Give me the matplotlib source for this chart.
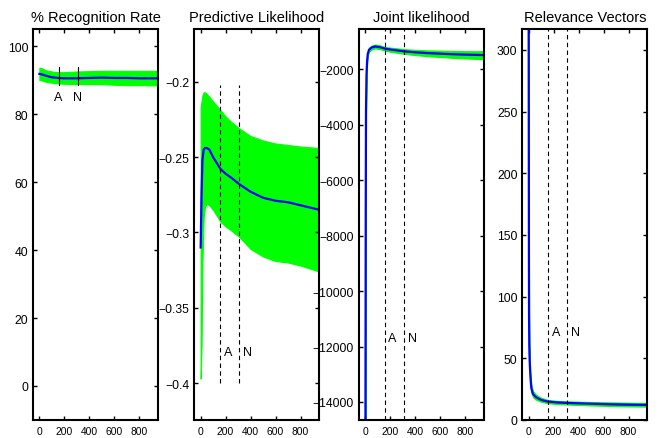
import numpy as np
import matplotlib
matplotlib.use("Agg")
import matplotlib.pyplot as plt

plt.rcParams["font.family"] = ["Liberation Sans", "DejaVu Sans"]

# marker positions (iterations)
a_pos = 155
n_pos = 310

# % Recognition Rate
x1 = [1, 25, 50, 100, 150, 200, 300, 400, 500, 600, 700, 800, 950]
mean1 = [91.8, 91.6, 91.3, 90.8, 90.6, 90.5, 90.5, 90.6, 90.7, 90.6, 90.6, 90.5, 90.5]
up1 = [93.6, 93.4, 92.9, 92.5, 92.3, 92.3, 92.5, 92.6, 92.7, 92.7, 92.7, 92.7, 92.7]
lo1 = [90.0, 89.8, 89.5, 89.2, 89.0, 88.9, 88.8, 88.8, 88.8, 88.6, 88.5, 88.5, 88.4]

# Predictive Likelihood
x2 = [1, 8, 15, 25, 35, 50, 70, 100, 130, 160, 200, 250, 310, 400, 500, 600, 700, 800, 950]
mean2 = [-0.310, -0.275, -0.252, -0.245, -0.244, -0.244, -0.245, -0.250, -0.254, -0.258, -0.261, -0.264, -0.268, -0.273, -0.277, -0.279, -0.280, -0.282, -0.285]
up2 = [-0.217, -0.213, -0.209, -0.207, -0.207, -0.208, -0.210, -0.213, -0.216, -0.219, -0.223, -0.227, -0.231, -0.236, -0.239, -0.241, -0.242, -0.243, -0.244]
lo2 = [-0.397, -0.375, -0.320, -0.290, -0.283, -0.281, -0.282, -0.285, -0.289, -0.293, -0.296, -0.299, -0.303, -0.311, -0.316, -0.319, -0.320, -0.322, -0.326]

# Joint likelihood
x3 = [1, 2, 4, 6, 10, 15, 20, 30, 50, 80, 120, 160, 200, 320, 400, 500, 600, 700, 800, 950]
mean3 = [-16000, -13300, -7000, -3500, -2200, -1700, -1450, -1300, -1220, -1180, -1210, -1260, -1290, -1360, -1390, -1420, -1440, -1460, -1475, -1490]
up3 = [-15900, -13200, -6900, -3400, -2100, -1620, -1380, -1230, -1150, -1110, -1140, -1200, -1220, -1280, -1300, -1320, -1330, -1340, -1350, -1350]
lo3 = [-16100, -13400, -7100, -3600, -2300, -1780, -1520, -1370, -1290, -1250, -1280, -1330, -1370, -1450, -1490, -1530, -1560, -1590, -1610, -1640]

# Relevance Vectors
x4 = [1, 2, 3, 4, 6, 9, 15, 22, 35, 60, 100, 155, 220, 315, 500, 700, 950]
mean4 = [317, 230, 135, 85, 60, 48, 35, 26, 21, 18.5, 16.3, 14.9, 14.3, 13.8, 13.2, 12.6, 12.2]
up4 = [317, 232, 137, 88, 63, 51, 38, 29, 23.5, 20.5, 18.0, 16.3, 15.6, 15.1, 14.6, 14.2, 13.8]
lo4 = [315, 226, 132, 82, 57, 45, 32, 23, 18.5, 16.5, 14.8, 13.6, 13.0, 12.5, 11.8, 11.2, 10.8]

titles = ["% Recognition Rate", "Predictive Likelihood", "Joint likelihood", "Relevance Vectors"]
ylims = [(-10, 105), (-0.4245, -0.165), (-14650, -550), (0, 317)]
yticks = [np.arange(0, 101, 20), np.arange(-0.4, -0.19, 0.05),
          np.arange(-14000, -1999, 2000), np.arange(0, 301, 50)]
ytick_labels = [None, ["\u22120.4", "\u22120.35", "\u22120.3", "\u22120.25", "\u22120.2"], None, None]
lefts = [33, 194.3, 359, 522.3]

W, H = 658, 439
fig = plt.figure(figsize=(W / 100, H / 100), dpi=100)

series = [(x1, mean1, up1, lo1), (x2, mean2, up2, lo2),
          (x3, mean3, up3, lo3), (x4, mean4, up4, lo4)]

for i, (x, m, u, l) in enumerate(series):
    ax = fig.add_axes([lefts[i] / W, 18 / H, 125 / W, 391 / H])
    ax.fill_between(x, l, u, color=(0, 1, 0), linewidth=0.8, edgecolor=(0, 1, 0))
    ax.plot(x, m, color=(0, 0, 1), linewidth=1.6)
    ax.set_xlim(-50, 950)
    ax.set_ylim(*ylims[i])
    ax.set_xticks([0, 200, 400, 600, 800])
    ax.set_yticks(yticks[i])
    if ytick_labels[i] is not None:
        ax.set_yticklabels(ytick_labels[i])
    ax.tick_params(direction="in", top=True, right=True, length=3, width=1.0,
                   labelsize=8.7)
    ax.tick_params(axis="x", labelsize=7.4, pad=4)
    for s in ax.spines.values():
        s.set_linewidth(1.5)
    ax.set_title(titles[i], fontsize=10.5, pad=6)

    # A / N markers
    if i == 0:
        for p, t in [(a_pos, "A"), (n_pos, "N")]:
            ax.plot([p, p], [88.6, 93.7], color="k", linewidth=0.8)
            ax.text(p, 85, t, ha="center", va="center", fontsize=9)
    elif i == 1:
        for p, t in [(a_pos, "A"), (n_pos, "N")]:
            ax.plot([p, p], [-0.4, -0.202], color="k", linewidth=0.8, linestyle=(0, (4, 3)))
            ax.text(p + 30, -0.3795, t, ha="left", va="center", fontsize=9)
    else:
        ylab = -11700 if i == 2 else 71
        for p, t in [(a_pos, "A"), (n_pos, "N")]:
            ax.axvline(p, color="k", linewidth=0.8, linestyle=(0, (4, 3)))
            ax.text(p + 30, ylab, t, ha="left", va="center", fontsize=9)

fig.savefig("out.png", dpi=100)
